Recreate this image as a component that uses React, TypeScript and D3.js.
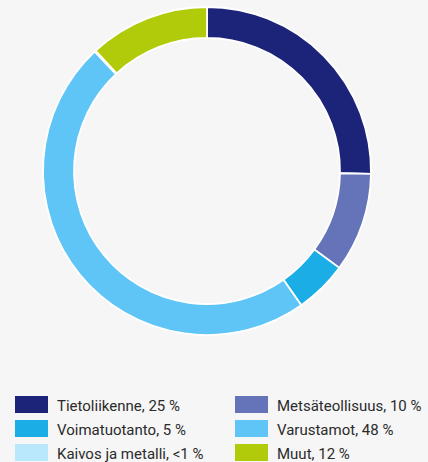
import React from "react";
import * as d3 from "d3";

const categories = ["Tietoliikenne", "Metsäteollisuus", "Voimatuotanto", "Varustamot", "Kaivos ja metalli", "Muut"];
const shares = [25.3, 9.8, 5.2, 47.8, 0.12, 11.9];
const labels = ["Tietoliikenne, 25 %", "Metsäteollisuus, 10 %", "Voimatuotanto, 5 %", "Varustamot, 48 %", "Kaivos ja metalli, <1 %", "Muut, 12 %"];
const colors = ["#1b2479", "#6574b9", "#1badE6", "#5ec5f6", "#b9e7fc", "#b1cb0a"];

const W = 428;
const H = 462;
const cx = 207;
const cy = 171;
const rOuter = 164;
const rInner = 133;

export default function App() {
  const data = categories.map((c, i) => ({ c, v: shares[i], i }));
  const pie = d3.pie<any>().value((d) => d.v).sort(null);
  const arc = d3.arc<any>().innerRadius(rInner).outerRadius(rOuter);
  const arcs = pie(data);

  const legendX = [15, 235];
  const legendY0 = 396;
  const rowH = 24;

  return (
    <svg width={W} height={H} style={{ position: "absolute", left: 0, top: 0, background: "#f6f6f6" }}>
      <rect x={0} y={0} width={W} height={H} fill="#f6f6f6" />
      <g transform={`translate(${cx},${cy})`}>
        {arcs.map((a, i) => (
          <path key={i} d={arc(a) || ""} fill={colors[i]} stroke="#ffffff" strokeWidth={1.8} strokeLinejoin="miter" />
        ))}
      </g>
      <g fontFamily="Roboto, 'Open Sans', sans-serif" fontSize={15} fill="#2b2b2b">
        {labels.map((l, i) => {
          const col = i % 2;
          const row = Math.floor(i / 2);
          const x = legendX[col];
          const y = legendY0 + row * rowH;
          return (
            <g key={i}>
              <rect x={x} y={y} width={33} height={17} fill={colors[i]} />
              <text x={x + 42} y={y + 15}>{l}</text>
            </g>
          );
        })}
      </g>
    </svg>
  );
}
